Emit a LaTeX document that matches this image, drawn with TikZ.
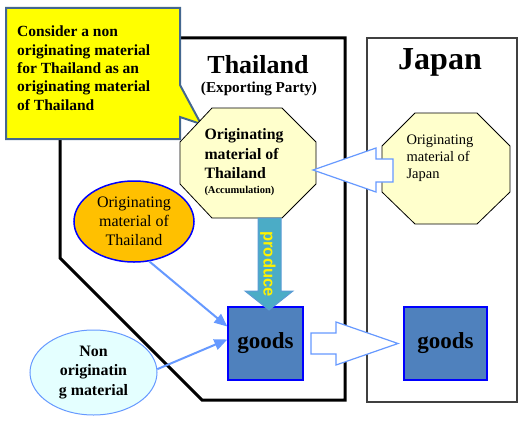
\documentclass[tikz,border=0pt]{standalone}
\usepackage{fontspec}
\setmainfont{Liberation Serif}
\newfontfamily\arialf{Liberation Sans}
\usetikzlibrary{shapes.geometric,arrows.meta,calc}
\definecolor{calloutfill}{RGB}{255,255,0}
\definecolor{calloutedge}{RGB}{68,103,143}
\definecolor{octfill}{RGB}{255,255,204}
\definecolor{lblue}{RGB}{102,153,255}
\definecolor{goodsfill}{RGB}{79,129,189}
\definecolor{pureblue}{RGB}{0,0,255}
\definecolor{orangefill}{RGB}{255,192,0}
\definecolor{cyanfill}{RGB}{228,255,255}
\definecolor{producefill}{RGB}{75,172,198}
\definecolor{produceedge}{RGB}{91,155,213}
\definecolor{japanedge}{RGB}{64,64,64}
\tikzset{
  octo/.style={draw=black, line width=0.8pt, fill=octfill},
  goodsbox/.style={draw=pureblue, line width=1.3pt, fill=goodsfill, minimum height=73pt,
     font=\fontsize{23}{26}\selectfont\bfseries},
  hollow/.style={draw=lblue, line width=1.2pt, fill=white},
  linkarrow/.style={draw=lblue, line width=2pt, -{Triangle[length=13pt,width=11pt]}},
  txt/.style={inner sep=0pt, align=left}
}
\begin{document}
\begin{tikzpicture}[x=1pt,y=-1pt]
\useasboundingbox (0,0) rectangle (526,420);
% Thailand region
\draw[line width=3pt, line join=miter] (60,38) -- (345,38) -- (345,400) -- (202,400) -- (60,258) -- cycle;
% Japan region
\draw[draw=japanedge, line width=1.5pt] (367,38) rectangle (517,402);
% callout
\draw[draw=calloutedge, line width=2pt, fill=calloutfill, line join=miter]
  (6,8) -- (180,8) -- (180,85) -- (201,124) -- (180,117) -- (180,139) -- (6,139) -- cycle;
\node[txt, anchor=north west, font=\fontsize{15.5}{18.3}\selectfont\bfseries] (callout) at (17,26)
  {Consider a non\\originating material\\for Thailand as an\\originating material\\of Thailand};
% titles
\node[inner sep=0pt, font=\fontsize{26}{30}\selectfont\bfseries] (thtitle) at (258,65) {Thailand};
\node[inner sep=0pt, font=\fontsize{15.2}{18}\selectfont\bfseries] (thsub) at (259,89) {(Exporting Party)};
\node[inner sep=0pt, font=\fontsize{32}{36}\selectfont\bfseries] (jptitle) at (440,62) {Japan};
% octagons
\draw[octo] (212,108) -- (282,108) -- (316,142) -- (316,184) -- (282,218) -- (212,218) -- (180,184) -- (180,142) -- cycle;
\node[txt, font=\fontsize{15.8}{19.5}\selectfont\bfseries] (thoct) at (244,162)
  {Originating\\material of\\Thailand\\[-5pt]{\fontsize{10.5}{12}\selectfont (Accumulation)}};
\draw[octo] (415,113) -- (477,113) -- (510,146) -- (510,192) -- (477,224) -- (415,224) -- (382,192) -- (382,146) -- cycle;
\node[txt, font=\fontsize{14.5}{17}\selectfont] (jpoct) at (440,158) {Originating\\material of\\Japan};
% hollow arrow Japan -> Thailand octagon
\draw[hollow, line join=miter] (313,170) -- (376,148) -- (376,159) -- (393,159) -- (393,182) -- (376,182) -- (376,192) -- cycle;
% goods
\node[goodsbox, minimum width=75pt] (goodsT) at (265.5,343.5) {goods};
\node[goodsbox, minimum width=83pt] (goodsJ) at (445.5,343.5) {goods};
% hollow arrow goods -> goods
\draw[hollow, line join=miter] (311,333) -- (336,333) -- (336,322) -- (398,343.5) -- (336,365) -- (336,354) -- (311,354) -- cycle;
% produce arrow
\draw[fill=producefill, draw=produceedge, line width=1pt, line join=miter]
  (258,218) -- (281,218) -- (281,291) -- (293,291) -- (269,310) -- (245,291) -- (258,291) -- cycle;
\node[inner sep=0pt, rotate=-90, text=yellow, font=\arialf\fontsize{16.5}{18}\selectfont\bfseries] (produce) at (268,264) {produce};
% ellipses
\node[ellipse, draw=pureblue, line width=1.5pt, fill=orangefill, minimum width=120pt, minimum height=81pt,
  inner sep=0pt, align=center, font=\fontsize{16}{19}\selectfont] (orange) at (134,221.5) {Originating\\material of\\Thailand};
\node[ellipse, draw=lblue, line width=1pt, fill=cyanfill, minimum width=127pt, minimum height=85pt,
  inner sep=0pt, align=center, font=\fontsize{15.9}{19.5}\selectfont\bfseries] (cyan) at (93.5,372.5) {Non\\originatin\\g material};
% connectors
\draw[linkarrow] (orange.-69) -- (goodsT.156);
\draw[linkarrow] (cyan.3) -- (goodsT.174);
\end{tikzpicture}
\end{document}
